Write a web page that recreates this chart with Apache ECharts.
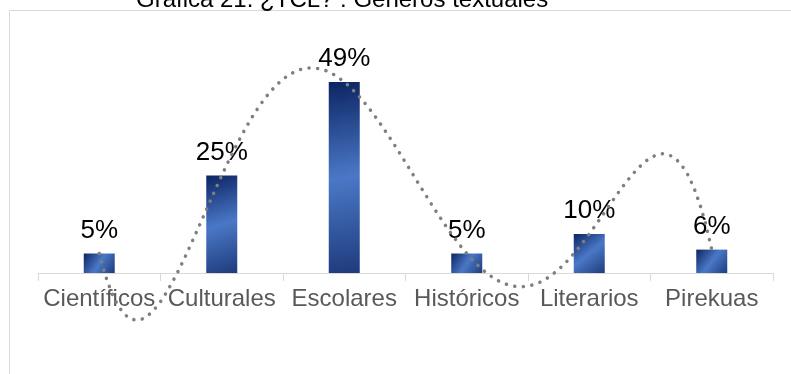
<!DOCTYPE html>
<html>
<head>
<meta charset="utf-8">
<script src="https://cdn.jsdelivr.net/npm/echarts@6/dist/echarts.min.js"></script>
<style>
  html, body { margin: 0; padding: 0; background: #fff; }
  #chart { width: 791px; height: 374px; }
</style>
</head>
<body>
<div id="chart"></div>
<script>
// Géneros textuales: share of each text genre (percent)
const categories = ['Científicos', 'Culturales', 'Escolares', 'Históricos', 'Literarios', 'Pirekuas'];
const shares = [5, 25, 49, 5, 10, 6];
const titleText = 'Gráfica 21. ¿TCL? : Géneros textuales';

// Polynomial trendline (order 5 over the six points, as a spreadsheet trendline would give)
function polyTrend(ys, x) {
  let sum = 0;
  for (let i = 0; i < ys.length; i++) {
    let term = ys[i];
    for (let j = 0; j < ys.length; j++) {
      if (j !== i) term *= (x - j) / (i - j);
    }
    sum += term;
  }
  return sum;
}
const trend = [];
for (let k = 0; k <= 100; k++) {
  const x = k * (shares.length - 1) / 100;
  trend.push([x, polyTrend(shares, x)]);
}

const chart = echarts.init(document.getElementById('chart'), null, { renderer: 'canvas' });
const barGradient = new echarts.graphic.LinearGradient(0, 0, 1, 1, [
  { offset: 0, color: '#0c2463' },
  { offset: 0.5, color: '#4a78c6' },
  { offset: 1, color: '#1e3b7c' }
]);

chart.setOption({
  animation: false,
  textStyle: { fontFamily: '"Liberation Sans", Arial, sans-serif' },
  title: {
    text: titleText,
    left: 136,
    top: -12,
    padding: 0,
    textStyle: { fontSize: 24, fontWeight: 'normal', color: '#000', fontFamily: '"Liberation Sans", Arial, sans-serif' }
  },
  graphic: [{
    type: 'rect',
    shape: { x: 9.5, y: 10.5, width: 900, height: 500 },
    style: { fill: 'none', stroke: '#d9d9d9', lineWidth: 1 },
    silent: true
  }],
  grid: { left: 38, right: 18, top: 39, bottom: 101 },
  xAxis: [{
    type: 'category',
    data: categories,
    axisLine: { lineStyle: { color: '#d9d9d9', width: 1 } },
    axisTick: { show: true, length: 8, lineStyle: { color: '#d9d9d9' } },
    axisLabel: { interval: 0, fontSize: 24, color: '#595959', margin: 14, fontFamily: '"Liberation Sans", Arial, sans-serif' }
  }, {
    type: 'value',
    min: -0.5,
    max: 5.5,
    show: false
  }],
  yAxis: {
    type: 'value',
    min: 0,
    max: 60,
    show: false,
    splitLine: { show: false }
  },
  series: [{
    type: 'bar',
    data: shares,
    barWidth: 31,
    itemStyle: { color: barGradient },
    label: {
      show: true,
      position: 'top',
      distance: 10,
      formatter: '{c}%',
      fontSize: 26,
      color: '#000',
      fontFamily: '"Liberation Sans", Arial, sans-serif'
    }
  }, {
    type: 'line',
    xAxisIndex: 1,
    data: trend,
    showSymbol: false,
    smooth: false,
    clip: false,
    z: 5,
    lineStyle: { color: '#7f7f7f', width: 3.5, type: [0.1, 8.5], cap: 'round' }
  }]
});
</script>
</body>
</html>
